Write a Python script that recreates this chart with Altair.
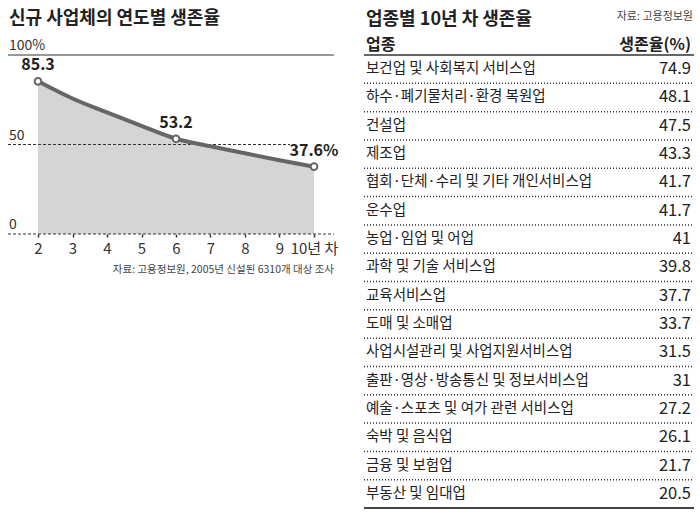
import altair as alt
import pandas as pd

# ---------------- data ----------------
years = [2, 3, 4, 5, 6, 7, 8, 9, 10]
rates = [85.3, 75.7, 67.9, 60.4, 53.2, 49.0, 45.1, 41.2, 37.6]
point_labels = ["85.3", "", "", "", "53.2", "", "", "", "37.6%"]
y_ticks = [100, 50, 0]
y_tick_labels = ["100%", "50", "0"]
left_title = "신규 사업체의 연도별 생존율"
left_source = "자료: 고용정보원, 2005년 신설된 6310개 대상 조사"

industries = [
    "보건업 및 사회복지 서비스업",
    "하수·폐기물처리·환경 복원업",
    "건설업",
    "제조업",
    "협회·단체·수리 및 기타 개인서비스업",
    "운수업",
    "농업·임업 및 어업",
    "과학 및 기술 서비스업",
    "교육서비스업",
    "도매 및 소매업",
    "사업시설관리 및 사업지원서비스업",
    "출판·영상·방송통신 및 정보서비스업",
    "예술·스포츠 및 여가 관련 서비스업",
    "숙박 및 음식업",
    "금융 및 보험업",
    "부동산 및 임대업",
]
industry_rates = [74.9, 48.1, 47.5, 43.3, 41.7, 41.7, 41, 39.8, 37.7, 33.7,
                  31.5, 31, 27.2, 26.1, 21.7, 20.5]
right_title = "업종별 10년 차 생존율"
right_source = "자료: 고용정보원"
header_left = "업종"
header_right = "생존율(%)"

# ---------------- style ----------------
NUM_FONT = "'Liberation Sans Narrow', 'Noto Sans CJK KR', sans-serif"
KFONT = "'Noto Sans CJK KR', sans-serif"
TXT = "#222222"
W1, H1 = 326, 179
W2, H2 = 330, 453

# ---------------- left chart ----------------
df = pd.DataFrame({"year": years, "rate": rates, "label": point_labels})
xs = alt.Scale(domain=[1.13, 10.58], nice=False, zero=False)
ys = alt.Scale(domain=[0, 100], nice=False)

x_enc = alt.X(
    "year:Q", scale=xs,
    axis=alt.Axis(values=years, labelExpr="datum.value == 10 ? '10년 차' : datum.label",
                  domain=False, grid=False, ticks=True, tickSize=3, tickColor="#333",
                  tickWidth=1.5, labelFontSize=15, labelColor="#333", labelPadding=4,
                  labelFont=NUM_FONT, title=None),
)
y_enc = alt.Y("rate:Q", scale=ys, axis=None)
xq = alt.X("year:Q", scale=xs)
yq = alt.Y("rate:Q", scale=ys)

base = alt.Chart(df)
area = base.mark_area(color="#d5d5d7", interpolate="monotone").encode(x=x_enc, y=y_enc)
line = base.mark_line(color="#666666", strokeWidth=4, interpolate="monotone").encode(x=xq, y=yq)
pts = base.transform_filter("datum.label != ''").mark_point(
    shape="circle", filled=True, fill="white", stroke="#666666", strokeWidth=2,
    size=45, opacity=1).encode(x=xq, y=yq)
lbls = base.transform_filter("datum.label != ''").mark_text(
    dy=-16, fontSize=16, fontWeight="bold", font=NUM_FONT, color=TXT).encode(
    x=xq, y=yq, text="label:N")

ydf = pd.DataFrame({"v": y_ticks, "lab": y_tick_labels})
ybase = alt.Chart(ydf)
yv = alt.Y("v:Q", scale=ys)
rule100 = ybase.transform_filter("datum.v == 100").mark_rule(color="#333", strokeWidth=1).encode(
    y=yv, x=alt.value(0), x2=alt.value(W1))
rule50 = ybase.transform_filter("datum.v == 50").mark_rule(
    color="#333", strokeWidth=1, strokeDash=[3, 2]).encode(
    y=yv, x=alt.value(0), x2=alt.value(282))
rule0 = ybase.transform_filter("datum.v == 0").mark_rule(
    color="#333", strokeWidth=1, strokeDash=[3, 2]).encode(
    y=yv, x=alt.value(0), x2=alt.value(W1))
ylab = ybase.mark_text(align="left", baseline="alphabetic", dy=-5, fontSize=14,
                       font=NUM_FONT, color="#333").encode(
    y=yv, x=alt.value(1), text="lab:N")

ldf = pd.DataFrame({"t": [left_title], "s": [left_source]})
lt = alt.Chart(ldf)
title1 = lt.mark_text(align="left", baseline="middle", fontSize=18, fontWeight="bold",
                      font=KFONT, color=TXT).encode(x=alt.value(1), y=alt.value(-36), text="t:N")
src1 = lt.mark_text(align="right", baseline="middle", fontSize=10.5, font=KFONT,
                    color="#444").encode(x=alt.value(W1), y=alt.value(H1 + 36), text="s:N")

left = alt.layer(area, rule50, rule0, rule100, line, pts, lbls, ylab, title1, src1).properties(
    width=W1, height=H1)

# ---------------- right chart (table) ----------------
tdf = pd.DataFrame({"name": industries, "rate": industry_rates})
band = alt.Scale(type="band", paddingInner=0, paddingOuter=0)
tbase = alt.Chart(tdf)
names = tbase.mark_text(align="left", baseline="middle", fontSize=14.5, font=KFONT,
                        color=TXT).encode(
    y=alt.Y("name:N", sort=None, axis=None, scale=band, bandPosition=0.5),
    x=alt.value(2), text="name:N")
vals = tbase.mark_text(align="right", baseline="middle", fontSize=16.5, font=NUM_FONT,
                       color=TXT).encode(
    y=alt.Y("name:N", sort=None, axis=None, scale=band, bandPosition=0.5),
    x=alt.value(W2 - 3), text=alt.Text("rate:Q", format=".1~f"))
dots = tbase.mark_rule(color="#333", strokeWidth=1.5, strokeDash=[1, 2]).encode(
    y=alt.Y("name:N", sort=None, axis=None, scale=band, bandPosition=1),
    x=alt.value(0), x2=alt.value(W2))
hdr_df = pd.DataFrame({"a": [header_left], "b": [header_right], "s": [right_source],
                       "t": [right_title]})
hbase = alt.Chart(hdr_df)
top_rule = hbase.mark_rule(color="#333", strokeWidth=1.5).encode(
    y=alt.value(0), x=alt.value(0), x2=alt.value(W2))
bot_rule = hbase.mark_rule(color="#444", strokeWidth=2).encode(
    y=alt.value(H2), x=alt.value(0), x2=alt.value(W2))
h1 = hbase.mark_text(align="left", baseline="middle", fontSize=16, fontWeight="bold",
                     font=KFONT, color=TXT).encode(x=alt.value(2), y=alt.value(-10), text="a:N")
h2 = hbase.mark_text(align="right", baseline="middle", fontSize=16, fontWeight="bold",
                     font=KFONT, color=TXT).encode(x=alt.value(W2 - 3), y=alt.value(-10), text="b:N")
s2 = hbase.mark_text(align="right", baseline="middle", fontSize=11, font=KFONT,
                     color="#444").encode(x=alt.value(W2 - 1), y=alt.value(-38), text="s:N")
title2 = hbase.mark_text(align="left", baseline="middle", fontSize=18, fontWeight="bold",
                         font=KFONT, color=TXT).encode(x=alt.value(2), y=alt.value(-35), text="t:N")

right = alt.layer(dots, top_rule, bot_rule, names, vals, h1, h2, s2, title2).properties(
    width=W2, height=H2)

chart = alt.hconcat(left, right, spacing=24).properties(
    padding={"left": 7, "top": 10, "right": 0, "bottom": 0},
    background="white",
).configure_view(stroke=None)

chart.save("out.html", embed_options={"renderer": "svg", "actions": False})
